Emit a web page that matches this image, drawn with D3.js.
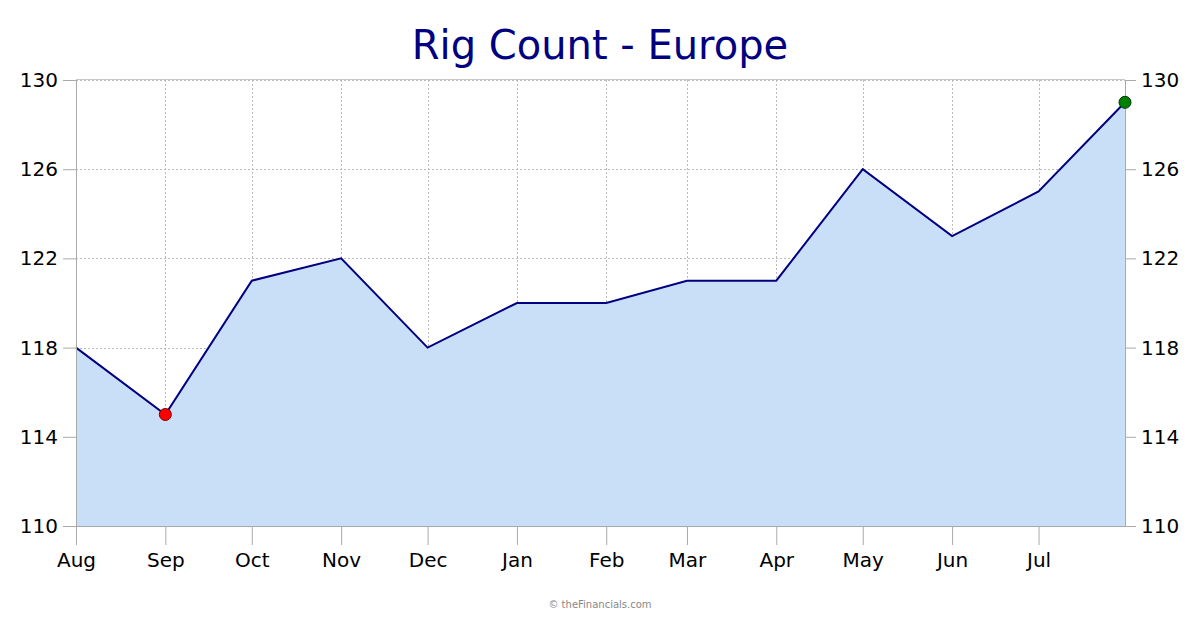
<!DOCTYPE html>
<html><head><meta charset="utf-8">
<script src="https://cdn.jsdelivr.net/npm/d3@7"></script>
<style>body{margin:0;background:#fff;}svg{display:block;font-family:"DejaVu Sans",Verdana,sans-serif;}</style>
</head><body>
<svg id="c" width="1200" height="630"></svg>
<script>
const dates = ["2022-08-01","2022-09-01","2022-10-01","2022-11-01","2022-12-01","2023-01-01","2023-02-01","2023-03-01","2023-04-01","2023-05-01","2023-06-01","2023-07-01","2023-07-31"];
const values = [118,115,121,122,118,120,120,121,121,126,123,125,129];
const monthTicks = ["2022-08-01","2022-09-01","2022-10-01","2022-11-01","2022-12-01","2023-01-01","2023-02-01","2023-03-01","2023-04-01","2023-05-01","2023-06-01","2023-07-01"];
const yTicks = [110,114,118,122,126,130];
const title = "Rig Count - Europe";

const parse = d3.utcParse("%Y-%m-%d");
const data = dates.map((d,i)=>({date:parse(d), value:values[i]}));
const svg = d3.select("#c");
const L=76, R=1125, T=80, B=526;
const x = d3.scaleUtc().domain([data[0].date, data[data.length-1].date]).range([L,R]);
const y = d3.scaleLinear().domain([110,130]).range([B,T]);

// gridlines
const g = svg.append("g");
g.selectAll(".vg").data(monthTicks.map(parse)).join("line")
  .attr("x1",d=>Math.round(x(d))+0.5).attr("x2",d=>Math.round(x(d))+0.5).attr("y1",T).attr("y2",B)
  .attr("stroke","#bbb").attr("stroke-dasharray","2,2").attr("stroke-width",1);
g.selectAll(".hg").data(yTicks).join("line")
  .attr("x1",L).attr("x2",R).attr("y1",d=>Math.round(y(d))+0.5).attr("y2",d=>Math.round(y(d))+0.5)
  .attr("stroke","#bbb").attr("stroke-dasharray","2,2").attr("stroke-width",1);

// area
svg.append("path").datum(data)
  .attr("fill","#c9dff7")
  .attr("d", d3.area().x(d=>x(d.date)).y0(B).y1(d=>y(d.value)));
svg.append("path").datum(data)
  .attr("fill","none").attr("stroke","#000080").attr("stroke-width",2)
  .attr("d", d3.line().x(d=>x(d.date)).y(d=>y(d.value)));

// frame
svg.append("line").attr("x1",L).attr("x2",R).attr("y1",T-0.5).attr("y2",T-0.5).attr("stroke","#c8c8c8");

// axes
const fmtM = d3.utcFormat("%b");
const xAxis = svg.append("g").attr("transform",`translate(0,${B})`)
  .call(d3.axisBottom(x).tickValues(monthTicks.map(parse)).tickFormat(fmtM).tickSize(19).tickSizeOuter(0));
const yl = svg.append("g").attr("transform",`translate(${L},0)`)
  .call(d3.axisLeft(y).tickValues(yTicks).tickSize(13).tickSizeOuter(0));
const yr = svg.append("g").attr("transform",`translate(${R},0)`)
  .call(d3.axisRight(y).tickValues(yTicks).tickSize(11).tickSizeOuter(0));
[xAxis,yl,yr].forEach(a=>{
  a.selectAll(".domain").attr("stroke","#aaa");
  a.selectAll(".tick line").attr("stroke","#aaa");
  a.selectAll("text").attr("fill","#000").attr("font-size",20).attr("font-family","DejaVu Sans, Verdana, sans-serif");
});
xAxis.select(".domain").attr("d",`M${L},0.5H${R}`);
xAxis.selectAll("text").attr("y",41).attr("dy",0);
yl.selectAll("text").attr("x",-18);
yr.selectAll("text").attr("x",16);

// min / max markers
const minI = values.indexOf(d3.min(values)), maxI = values.indexOf(d3.max(values));
svg.append("circle").attr("cx",x(data[minI].date)).attr("cy",y(data[minI].value)).attr("r",6)
  .attr("fill","#ff0000").attr("stroke","#800000").attr("stroke-width",1);
svg.append("circle").attr("cx",x(data[maxI].date)).attr("cy",y(data[maxI].value)).attr("r",6)
  .attr("fill","#008000").attr("stroke","#003300").attr("stroke-width",1);

// title & credit
svg.append("text").attr("x",600).attr("y",59).attr("text-anchor","middle")
  .attr("font-size",40).attr("fill","#000080").text(title);
svg.append("text").attr("x",600).attr("y",608).attr("text-anchor","middle")
  .attr("font-size",10).attr("fill","#888").text("© theFinancials.com");
</script>
</body></html>
